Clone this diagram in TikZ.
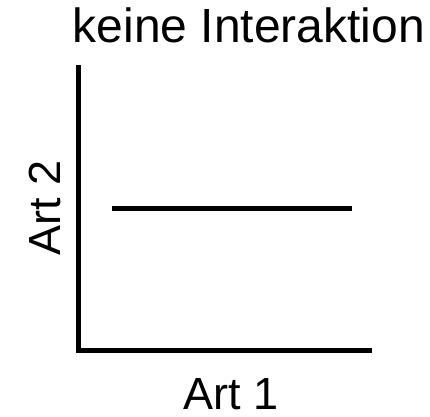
\documentclass[tikz,border=0pt]{standalone}
\usepackage{fontspec}
\setmainfont{Liberation Sans}
\begin{document}
\begin{tikzpicture}[x=1pt,y=-1pt,
  axis/.style={line width=5pt,line cap=butt},
  lbl/.style={inner sep=0pt,font=\fontsize{45}{54}\selectfont}]
\useasboundingbox (0,0) rectangle (430,416);
\coordinate (o) at (78,350.5);
\coordinate (ytop) at (78,65);
\coordinate (xend) at (372,350.5);
\coordinate (l1) at (112,208);
\coordinate (l2) at (352,208);
\draw[axis] (ytop) -- (o.center) -- (xend);
\draw[axis] (l1) -- (l2);
\node[lbl,anchor=base,font=\fontsize{48}{56}\selectfont] (title) at (249,42) {keine Interaktion};
\node[lbl,anchor=base] (x1) at (231,409) {Art 1};
\node[lbl,anchor=base,rotate=90] (y2) at (60,208) {Art 2};
\end{tikzpicture}
\end{document}
